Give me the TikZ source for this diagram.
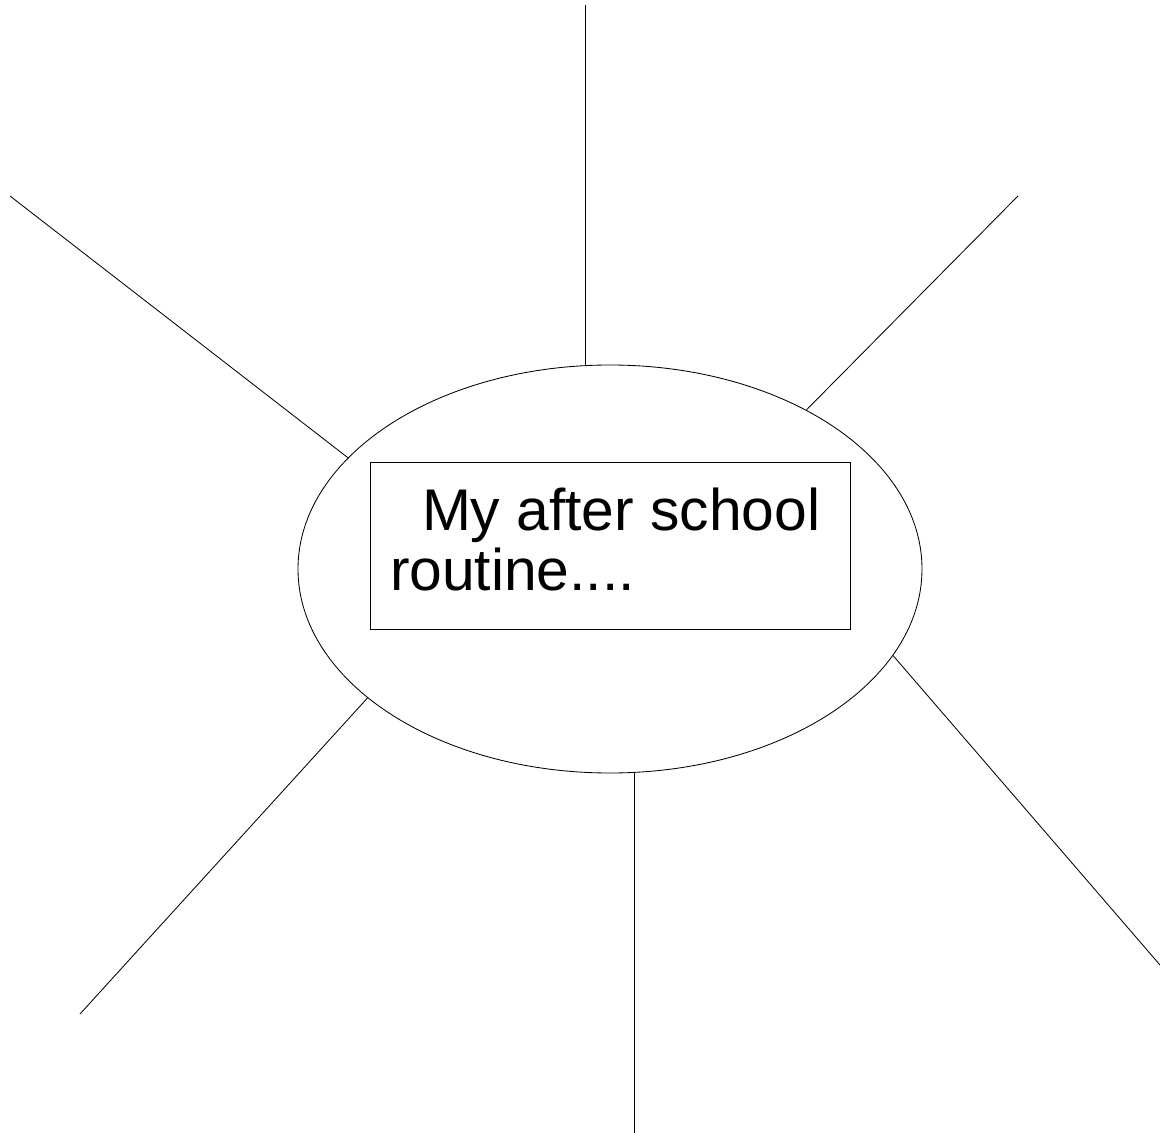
\documentclass[tikz,border=0pt]{standalone}
\usepackage{fontspec}
\setmainfont{Liberation Sans}
\usetikzlibrary{positioning,shapes.geometric}
\tikzset{
  % --- generic nodes ---------------------------------------------------
  hub/.style    ={ellipse, draw, line width=0.6pt, inner sep=0,
                  minimum width=15.6cm, minimum height=10.2cm},
  titlebox/.style={rectangle, draw, line width=0.6pt, inner xsep=0.5cm,
                  inner ysep=0, text height=1.7cm, text depth=2.475cm,
                  minimum width=12cm,
                  text width=11cm, align=flush left,
                  font=\fontsize{41.8pt}{42.7pt}\selectfont},
  % --- connectors ------------------------------------------------------
  spoke/.style  ={line width=0.6pt, draw=black},
}

\begin{document}
\begin{tikzpicture}
  \useasboundingbox (0,0) rectangle (29,-28.325);

  % ============================ centre ============================
  \node[hub] (hub) at (15.25,-14.225) {};
  \node[titlebox] (ttl) at (15.25,-13.64)
    {\hspace*{0.8cm}My after school\\routine....};

  % ============================ free ends of the spokes ============================
  \coordinate (endN)  at (14.625,-0.125);
  \coordinate (endNE) at (25.45,-4.9);
  \coordinate (endNW) at (0.25,-4.9);
  \coordinate (endSW) at (2.0,-25.35);
  \coordinate (endS)  at (15.85,-28.325);
  \coordinate (endSE) at (29.0,-24.125);

  % ============================ spokes ============================
  \draw[spoke] (endN |- hub.north) -- (endN);
  \draw[spoke] (hub.39.5)  -- (endNE);
  \draw[spoke] (hub.157.6) -- (endNW);
  \draw[spoke] (hub.208.3) -- (endSW);
  \draw[spoke] (endS |- hub.south) -- (endS);
  \draw[spoke] (hub.343.2) -- (endSE);

\end{tikzpicture}
\end{document}
